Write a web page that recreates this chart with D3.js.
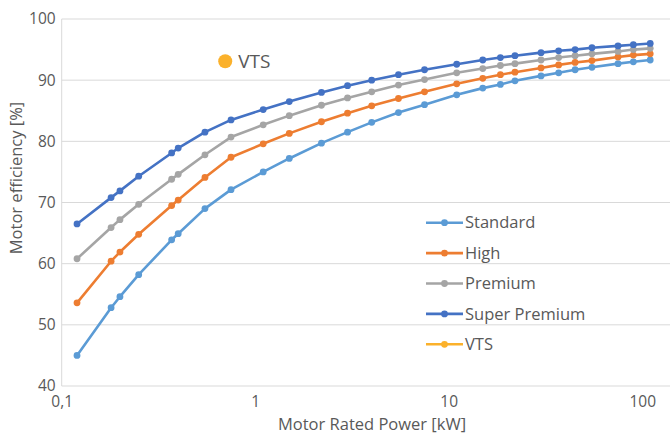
<!DOCTYPE html>
<html>
<head>
<meta charset="utf-8">
<script src="https://cdn.jsdelivr.net/npm/d3@7"></script>
<style>
  html, body { margin: 0; padding: 0; background: #fff; }
  svg { display: block; font-family: "Open Sans", sans-serif; }
</style>
</head>
<body>
<svg id="chart" width="670" height="437"></svg>
<script>
// ---- data ----
const powers = [0.12, 0.18, 0.2, 0.25, 0.37, 0.4, 0.55, 0.75, 1.1, 1.5, 2.2, 3, 4, 5.5, 7.5, 11, 15, 18.5, 22, 30, 37, 45, 55, 75, 90, 110];
const standard = [45.0, 52.8, 54.6, 58.2, 63.9, 64.9, 69.0, 72.1, 75.0, 77.2, 79.7, 81.5, 83.1, 84.7, 86.0, 87.6, 88.7, 89.3, 89.9, 90.7, 91.2, 91.7, 92.1, 92.7, 93.0, 93.3];
const high = [53.6, 60.4, 61.9, 64.8, 69.5, 70.4, 74.1, 77.4, 79.6, 81.3, 83.2, 84.6, 85.8, 87.0, 88.1, 89.4, 90.3, 90.9, 91.3, 92.0, 92.5, 92.9, 93.2, 93.8, 94.1, 94.3];
const premium = [60.8, 65.9, 67.2, 69.7, 73.8, 74.6, 77.8, 80.7, 82.7, 84.2, 85.9, 87.1, 88.1, 89.2, 90.1, 91.2, 91.9, 92.4, 92.7, 93.3, 93.7, 94.0, 94.3, 94.7, 95.0, 95.2];
const superPremium = [66.5, 70.8, 71.9, 74.3, 78.1, 78.9, 81.5, 83.5, 85.2, 86.5, 88.0, 89.1, 90.0, 90.9, 91.7, 92.6, 93.3, 93.7, 94.0, 94.5, 94.8, 95.0, 95.3, 95.6, 95.8, 96.0];
const vtsPower = [0.7];
const vtsEff = [93.1];
const seriesNames = ["Standard", "High", "Premium", "Super Premium", "VTS"];
const seriesColors = ["#5B9BD5", "#ED7D31", "#A5A5A5", "#4472C4", "#FBB12B"];
const xTicks = [0.1, 1, 10, 100];
const yTicks = [40, 50, 60, 70, 80, 90, 100];

// ---- layout ----
const svg = d3.select("#chart");
const W = 670, H = 437;
const mLeft = 61.7, mTop = 19, mBottom = 386;
const decade = 193.5;
const x = d3.scaleLog().domain([0.1, 1000]).range([mLeft, mLeft + 4 * decade]);
const y = d3.scaleLinear().domain([40, 100]).range([mBottom, mTop]);
const textColor = "#595959";
const gridColor = "#D9D9D9";

// gridlines
svg.append("g").selectAll("line").data(yTicks).join("line")
  .attr("x1", mLeft).attr("x2", W)
  .attr("y1", d => y(d)).attr("y2", d => y(d))
  .attr("stroke", gridColor).attr("stroke-width", 1);
// vertical axis line
svg.append("line").attr("x1", mLeft).attr("x2", mLeft).attr("y1", mTop).attr("y2", mBottom)
  .attr("stroke", gridColor).attr("stroke-width", 1);

// axes (labels only)
const loc = d3.formatLocale({decimal: ",", thousands: ".", grouping: [3], currency: ["", ""]});
const fmt = loc.format("~g");
const xAxis = svg.append("g").attr("transform", `translate(0,${mBottom})`)
  .call(d3.axisBottom(x).tickValues(xTicks).tickFormat(fmt).tickSize(0).tickPadding(10));
xAxis.select(".domain").remove();
xAxis.selectAll("text").attr("fill", textColor).attr("font-size", 15.5).attr("font-family", "Open Sans");

const yAxis = svg.append("g").attr("transform", `translate(${mLeft},0)`)
  .call(d3.axisLeft(y).tickValues(yTicks).tickSize(0).tickPadding(6));
yAxis.select(".domain").remove();
yAxis.selectAll("text").attr("fill", textColor).attr("font-size", 15.5).attr("font-family", "Open Sans");

// axis titles
svg.append("text").attr("x", 372).attr("y", 424).attr("dy", "0.35em")
  .attr("text-anchor", "middle").attr("fill", textColor).attr("font-size", 16.5)
  .text("Motor Rated Power [kW]");
svg.append("text").attr("transform", "translate(16,178) rotate(-90)").attr("dy", "0.35em")
  .attr("text-anchor", "middle").attr("fill", textColor).attr("font-size", 16.5)
  .text("Motor efficiency [%]");

// series
const allSeries = [standard, high, premium, superPremium];
const line = d3.line().x(d => x(d[0])).y(d => y(d[1]));
allSeries.forEach((vals, i) => {
  const pts = powers.map((p, j) => [p, vals[j]]);
  const g = svg.append("g");
  g.append("path").datum(pts).attr("d", line)
    .attr("fill", "none").attr("stroke", seriesColors[i]).attr("stroke-width", 2.6)
    .attr("stroke-linejoin", "round");
  g.selectAll("circle").data(pts).join("circle")
    .attr("cx", d => x(d[0])).attr("cy", d => y(d[1])).attr("r", 3.4)
    .attr("fill", seriesColors[i]);
});

// VTS point
const vtsPts = vtsPower.map((p, j) => [p, vtsEff[j]]);
svg.append("g").selectAll("circle").data(vtsPts).join("circle")
  .attr("cx", d => x(d[0])).attr("cy", d => y(d[1])).attr("r", 7)
  .attr("fill", seriesColors[4]);
svg.append("g").selectAll("text").data(vtsPts).join("text")
  .attr("x", d => x(d[0]) + 13).attr("y", d => y(d[1])).attr("dy", "0.35em")
  .attr("fill", textColor).attr("font-size", 19).text("VTS");

// legend
const legend = svg.append("g");
const legX1 = 426, legX2 = 463, legY0 = 222.7, legStep = 30.4;
seriesNames.forEach((name, i) => {
  const yy = legY0 + i * legStep;
  legend.append("line").attr("x1", legX1).attr("x2", legX2).attr("y1", yy).attr("y2", yy)
    .attr("stroke", seriesColors[i]).attr("stroke-width", 2.6);
  legend.append("circle").attr("cx", (legX1 + legX2) / 2).attr("cy", yy).attr("r", 3.4)
    .attr("fill", seriesColors[i]);
  legend.append("text").attr("x", legX2 + 2).attr("y", yy).attr("dy", "0.35em")
    .attr("fill", textColor).attr("font-size", 16.5).text(name);
});
</script>
</body>
</html>
